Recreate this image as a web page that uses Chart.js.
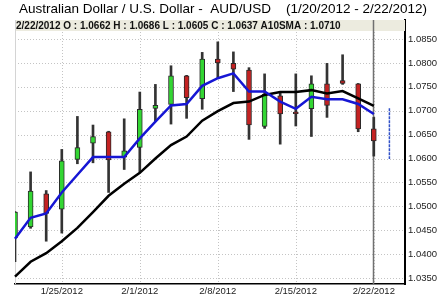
<!DOCTYPE html>
<html>
<head>
<meta charset="utf-8">
<script src="https://cdn.jsdelivr.net/npm/chart.js@4.4.1/dist/chart.umd.min.js"></script>
<style>
  html, body { margin: 0; padding: 0; background: #fff; }
  canvas { display: block; }
</style>
</head>
<body>
<canvas id="chart" width="439" height="298"></canvas>
<script>
// trading days, plus two empty slots on the right
var dates = ['1/20/2012', '1/23/2012', '1/24/2012', '1/25/2012', '1/26/2012', '1/27/2012',
    '1/30/2012', '1/31/2012', '2/1/2012', '2/2/2012', '2/3/2012', '2/6/2012', '2/7/2012',
    '2/8/2012', '2/9/2012', '2/10/2012', '2/13/2012', '2/14/2012', '2/15/2012', '2/16/2012',
    '2/17/2012', '2/20/2012', '2/21/2012', '2/22/2012', '2/23/2012', '2/24/2012'];
var tickLabels = ['1/25/2012', '2/1/2012', '2/8/2012', '2/15/2012', '2/22/2012'];
var yTicks = [1.035, 1.040, 1.045, 1.050, 1.055, 1.060, 1.065, 1.070, 1.075, 1.080, 1.085];

var opens  = [1.0434, 1.0457, 1.0526, 1.0494, 1.0598, 1.0632, 1.0656, 1.0603, 1.0623, 1.0705, 1.0713, 1.0773,
              1.0725, 1.0808, 1.0799, 1.0785, 1.0667, 1.0731, 1.0697, 1.0704, 1.0756, 1.0763, 1.0756, 1.0662];
var highs  = [1.0489, 1.0572, 1.0533, 1.0619, 1.0688, 1.0670, 1.0657, 1.0683, 1.0739, 1.0755, 1.0794, 1.0774,
              1.0822, 1.0844, 1.0823, 1.0790, 1.0777, 1.0738, 1.0777, 1.0773, 1.0799, 1.0817, 1.0757, 1.0686];
var lows   = [1.0384, 1.0454, 1.0427, 1.0444, 1.0589, 1.0591, 1.0529, 1.0577, 1.0572, 1.0679, 1.0672, 1.0684,
              1.0703, 1.0769, 1.0740, 1.0640, 1.0663, 1.0630, 1.0668, 1.0646, 1.0686, 1.0755, 1.0656, 1.0605];
var closes = [1.0488, 1.0532, 1.0485, 1.0595, 1.0623, 1.0646, 1.0597, 1.0616, 1.0703, 1.0711, 1.0773, 1.0727,
              1.0808, 1.0800, 1.0787, 1.0670, 1.0735, 1.0693, 1.0694, 1.0756, 1.0711, 1.0757, 1.0662, 1.0637];

// moving averages
var sma10 = [1.0353, 1.0384, 1.0402, 1.0427, 1.0455, 1.0488, 1.0522, 1.0547, 1.0570, 1.0600, 1.0628, 1.0646,
             1.0679, 1.0699, 1.0716, 1.0719, 1.0733, 1.0739, 1.0739, 1.0743, 1.0736, 1.0741, 1.0726, 1.0710];
var smaFast = [1.0432, 1.0476, 1.0485, 1.0529, 1.0566, 1.0603, 1.0603, 1.0603, 1.0642, 1.0677, 1.0711, 1.0714,
               1.0752, 1.0768, 1.0778, 1.0740, 1.0740, 1.0719, 1.0704, 1.0729, 1.0724, 1.0724, 1.0714, 1.0693];
var projDate = '2/23/2012';
var projRange = [1.0705, 1.0599];

var titleLeft = 'Australian Dollar / U.S. Dollar -  AUD/USD';
var titleRight = '(1/20/2012 - 2/22/2012)';
var infoText = '2/22/2012 O : 1.0662 H : 1.0686 L : 1.0605 C : 1.0637 A10SMA : 1.0710';

var FONT = '"Liberation Sans", Arial, sans-serif';
var GREEN = '#33d633';
var RED = '#c42222';

var wickData = highs.map(function (h, i) { return [lows[i], h]; });
var bodyData = opens.map(function (o, i) { return [o, closes[i]]; });
var bodyColors = opens.map(function (o, i) { return closes[i] >= o ? GREEN : RED; });

function line(ctx, x1, y1, x2, y2) {
    ctx.beginPath();
    ctx.moveTo(x1, y1);
    ctx.lineTo(x2, y2);
    ctx.stroke();
}

var decor = {
    id: 'decor',
    beforeDatasetsDraw: function (chart) {
        var ctx = chart.ctx, a = chart.chartArea, x = chart.scales.x, y = chart.scales.y;
        ctx.save();
        ctx.strokeStyle = '#c4c4c4';
        ctx.lineWidth = 1;
        ctx.setLineDash([1, 2]);
        yTicks.forEach(function (v) {
            var py = Math.round(y.getPixelForValue(v)) + 0.5;
            line(ctx, a.left, py, a.right, py);
        });
        tickLabels.forEach(function (d) {
            var px = Math.round(x.getPixelForValue(dates.indexOf(d))) + 0.5;
            line(ctx, px, a.top, px, a.bottom);
        });
        ctx.setLineDash([]);
        ctx.strokeStyle = '#d4d4d4';
        line(ctx, a.left + 0.5, a.top, a.left + 0.5, a.bottom);

        // info band
        ctx.fillStyle = '#ecebdf';
        ctx.fillRect(a.left + 1, a.top, a.right - a.left - 1, 11);
        ctx.fillStyle = '#111';
        ctx.font = 'bold 10px ' + FONT;
        ctx.textBaseline = 'alphabetic';
        ctx.fillText(infoText, a.left + 1, a.top + 9);

        // cursor line on the last day
        var cx = Math.round(x.getPixelForValue(dates.indexOf('2/22/2012'))) - 0.5;
        ctx.strokeStyle = '#707070';
        ctx.lineWidth = 1.5;
        line(ctx, cx, a.top, cx, a.bottom);
        ctx.restore();
    },
    afterDraw: function (chart) {
        var ctx = chart.ctx;
        ctx.save();
        ctx.fillStyle = '#000';
        ctx.font = '13.5px ' + FONT;
        ctx.textBaseline = 'alphabetic';
        ctx.fillText(titleLeft, 19, 13);
        ctx.fillText(titleRight, 286, 13);
        ctx.restore();
    }
};

new Chart(document.getElementById('chart').getContext('2d'), {
    type: 'bar',
    data: {
        labels: dates,
        datasets: [{
            type: 'line',
            data: smaFast,
            borderColor: '#1616d4',
            borderWidth: 2.5,
            pointRadius: 0,
            tension: 0,
            order: 0
        }, {
            type: 'line',
            data: sma10,
            borderColor: '#000',
            borderWidth: 2.5,
            pointRadius: 0,
            tension: 0,
            order: 0
        }, {
            type: 'line',
            data: [{ x: projDate, y: projRange[0] }, { x: projDate, y: projRange[1] }],
            borderColor: '#3050c8',
            borderWidth: 1.5,
            borderDash: [3, 1],
            pointRadius: 0,
            order: 0
        }, {
            data: bodyData,
            backgroundColor: bodyColors,
            borderColor: '#2a2a2a',
            borderWidth: 1,
            borderSkipped: false,
            barThickness: 5,
            grouped: false,
            order: 1
        }, {
            data: wickData,
            backgroundColor: '#333',
            borderWidth: 0,
            barThickness: 2,
            grouped: false,
            order: 2
        }]
    },
    options: {
        responsive: false,
        animation: false,
        devicePixelRatio: 1,
        layout: { padding: { left: 15, top: 20, right: 0, bottom: 0 } },
        plugins: {
            legend: { display: false },
            title: { display: false },
            tooltip: { enabled: false }
        },
        scales: {
            x: {
                offset: false,
                grid: { display: false, drawTicks: false },
                border: { color: '#000', width: 1.5 },
                afterFit: function (scale) { scale.height = 14; },
                ticks: {
                    autoSkip: false,
                    maxRotation: 0,
                    padding: 2,
                    color: '#222',
                    font: { family: FONT, size: 9.5 },
                    callback: function (v, i) {
                        return tickLabels.indexOf(dates[i]) >= 0 ? dates[i] : '';
                    }
                }
            },
            y: {
                position: 'right',
                min: 1.03375,
                max: 1.08897,
                grid: { display: false, drawTicks: false },
                border: { color: '#000', width: 2 },
                afterFit: function (scale) { scale.width = 34; },
                afterBuildTicks: function (axis) {
                    axis.ticks = yTicks.map(function (v) { return { value: v }; });
                },
                ticks: {
                    padding: 3,
                    color: '#222',
                    font: { family: FONT, size: 9.5 },
                    callback: function (v) { return Number(v).toFixed(4); }
                }
            }
        }
    },
    plugins: [decor]
});
</script>
</body>
</html>
